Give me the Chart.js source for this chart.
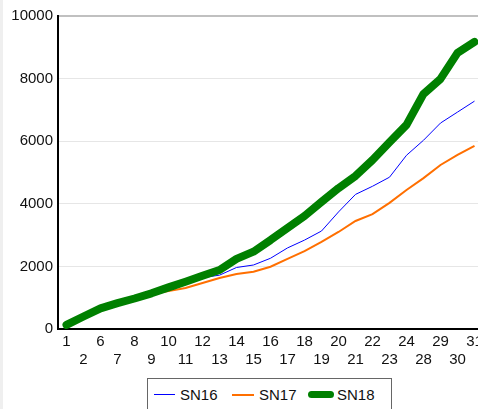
<!DOCTYPE html>
<html>
<head>
<meta charset="utf-8">
<script src="https://cdn.jsdelivr.net/npm/chart.js@4/dist/chart.umd.min.js"></script>
<style>
  html, body { margin: 0; padding: 0; background: #fff; overflow: hidden; width: 478px; height: 409px; }
  #wrap { position: relative; width: 478px; height: 409px; overflow: hidden; }
  #strip { position: absolute; left: 0; top: 0; width: 3px; height: 409px; background: #efefef; }
  canvas { position: absolute; left: 0; top: 0; }
  #legend { position: absolute; left: 147px; top: 378px; width: 245px; height: 40px; border: 1px solid #666; box-sizing: border-box; background: #fff; }
  .sw { position: absolute; }
  .lt { position: absolute; font: 15px "Liberation Sans", Arial, sans-serif; color: #111; line-height: 18px; top: 7px; }
</style>
</head>
<body>
<div id="wrap">
  <div id="strip"></div>
  <canvas id="c" width="490" height="409"></canvas>
  <div id="legend">
    <div class="sw" style="left:6px; top:15px; width:21px; height:1px; background:#0000ff;"></div>
    <div class="lt" style="left:32px;">SN16</div>
    <div class="sw" style="left:84px; top:15px; width:22px; height:2px; background:#ff6f00;"></div>
    <div class="lt" style="left:111px;">SN17</div>
    <div class="sw" style="left:160px; top:12px; width:26px; height:7px; border-radius:4px; background:#008000;"></div>
    <div class="lt" style="left:189px;">SN18</div>
  </div>
</div>
<script>
const categories = ['1','2','6','7','8','9','10','11','12','13','14','15','16','17','18','19','20','21','22','23','24','28','29','30','31'];
const SN16 = [130, 400, 660, 825, 975, 1140, 1320, 1490, 1640, 1720, 1965, 2045, 2260, 2590, 2840, 3130, 3740, 4300, 4560, 4850, 5550, 6030, 6580, 6930, 7280];
const SN17 = [130, 400, 660, 825, 975, 1120, 1210, 1310, 1470, 1630, 1760, 1830, 1990, 2240, 2490, 2780, 3100, 3450, 3670, 4030, 4440, 4820, 5240, 5560, 5850];
const SN18 = [130, 400, 660, 825, 975, 1140, 1330, 1510, 1700, 1885, 2240, 2470, 2840, 3230, 3610, 4060, 4500, 4890, 5400, 5970, 6520, 7510, 7990, 8820, 9170];
const yTicks = [0, 2000, 4000, 6000, 8000, 10000];

const font = { family: '"Liberation Sans", Arial, sans-serif', size: 15 };

new Chart(document.getElementById('c'), {
  type: 'line',
  data: {
    labels: categories,
    datasets: [
      { label: 'SN18', data: SN18, borderColor: '#008000', backgroundColor: '#008000', borderWidth: 8, borderCapStyle: 'round', borderJoinStyle: 'round', order: 0 },
      { label: 'SN16', data: SN16, borderColor: '#0000ff', backgroundColor: '#0000ff', borderWidth: 1, order: 1 },
      { label: 'SN17', data: SN17, borderColor: '#ff6f00', backgroundColor: '#ff6f00', borderWidth: 2, order: 2 }
    ]
  },
  options: {
    responsive: false,
    animation: false,
    devicePixelRatio: 1,
    layout: { padding: { left: 8, top: 16, right: 7, bottom: 40 } },
    elements: { point: { radius: 0, hoverRadius: 0 }, line: { tension: 0 } },
    plugins: { legend: { display: false }, tooltip: { enabled: false } },
    scales: {
      x: {
        type: 'category',
        offset: true,
        grid: { display: false, drawTicks: false },
        border: { display: true, color: '#000', width: 2 },
        ticks: {
          autoSkip: false, maxRotation: 0, minRotation: 0, padding: 4,
          color: '#111', font: font,
          callback: function(v, i) { const l = categories[i]; return i % 2 === 0 ? [l, ''] : ['', l]; }
        },
        afterFit: function(s) { s.height = 40; }
      },
      y: {
        min: 0, max: 10000,
        afterBuildTicks: function(s) { s.ticks = yTicks.map(v => ({ value: v })); },
        grid: {
          drawTicks: false,
          color: function(ctx) { const v = ctx.tick && ctx.tick.value; return v === 10000 ? '#c0c0c0' : (v === 0 ? 'rgba(0,0,0,0)' : '#e6e6e6'); },
          lineWidth: function(ctx) { return ctx.tick && ctx.tick.value === 10000 ? 2 : 1; }
        },
        border: { display: true, color: '#000', width: 2 },
        ticks: { padding: 5, color: '#111', font: font, callback: function(v) { return String(v); } },
        afterFit: function(s) { s.width = 50; }
      }
    }
  }
});
</script>
</body>
</html>
